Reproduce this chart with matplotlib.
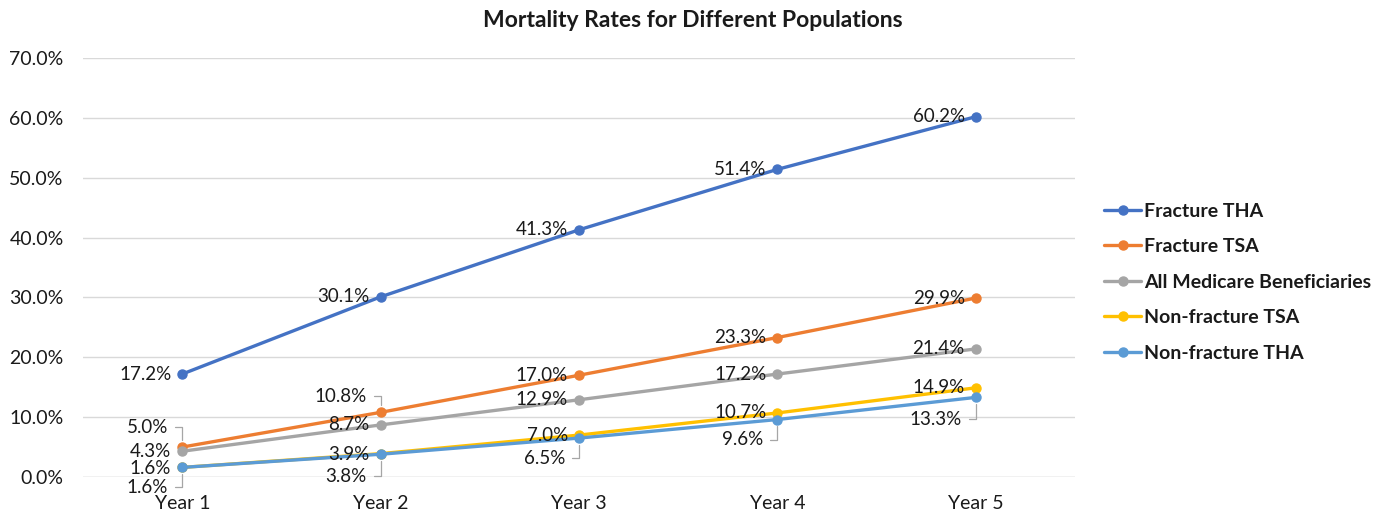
import matplotlib
matplotlib.use("Agg")
import matplotlib.pyplot as plt
import numpy as np

# Chart data
years = ["Year 1", "Year 2", "Year 3", "Year 4", "Year 5"]
fracture_tha = [17.2, 30.1, 41.3, 51.4, 60.2]
fracture_tsa = [5.0, 10.8, 17.0, 23.3, 29.9]
all_medicare = [4.3, 8.7, 12.9, 17.2, 21.4]
nonfracture_tsa = [1.6, 3.9, 7.0, 10.7, 14.9]
nonfracture_tha = [1.6, 3.8, 6.5, 9.6, 13.3]

series_names = ["Fracture THA", "Fracture TSA", "All Medicare Beneficiaries",
                "Non-fracture TSA", "Non-fracture THA"]
colors = ["#4472C4", "#ED7D31", "#A5A5A5", "#FFC000", "#5B9BD5"]

plt.rcParams['font.family'] = ['Lato', 'DejaVu Sans']

fig = plt.figure(figsize=(13.85, 5.17), dpi=100)
ax = fig.add_axes([0.0600, 0.0774, 0.7162, 0.8104])

x = np.arange(len(years))
all_series = [fracture_tha, fracture_tsa, all_medicare, nonfracture_tsa, nonfracture_tha]
for vals, name, c in zip(all_series, series_names, colors):
    ax.plot(x, np.array(vals) / 100, color=c, lw=2.4, marker='o', ms=6.5,
            label=name, solid_capstyle='round', zorder=3)

# label offsets in pixels (dx, dy up positive); leader lines where the label is moved off
px = 0.72
offsets = {
    0: [(0, 0)] * 5,
    1: [(0, 20), (0, 16), (0, 0), (0, 0), (0, 0)],
    2: [(0, 0)] * 5,
    3: [(0, -1), (0, -1), (0, 0), (0, 0), (0, 0)],
    4: [(0, -20), (0, -22), (0, -20), (0, -20), (0, -22)],
}
leaders = {1: [0, 1], 4: [0, 1, 2, 3, 4]}

for si, vals in enumerate(all_series):
    for i, v in enumerate(vals):
        dx, dy = offsets[si][i]
        lead = i in leaders.get(si, [])
        if lead:
            ax.annotate(f"{v:.1f}%", xy=(x[i], v / 100),
                        xytext=(-14 * px, dy * px), textcoords='offset points',
                        ha='right', va='center', fontsize=13.5, color='#1a1a1a',
                        arrowprops=dict(arrowstyle='-', color='#A6A6A6', lw=0.9,
                                        connectionstyle='angle,angleA=0,angleB=90,rad=0',
                                        relpos=(1, 0.5), shrinkA=3, shrinkB=5),
                        zorder=4)
        else:
            ax.annotate(f"{v:.1f}%", xy=(x[i], v / 100),
                        xytext=(-11 * px, dy * px), textcoords='offset points',
                        ha='right', va='center', fontsize=13.5, color='#1a1a1a', zorder=4)

ax.set_xlim(-0.5, 4.5)
ax.set_ylim(0, 0.7)
ax.set_yticks(np.arange(0, 0.71, 0.1))
ax.set_yticklabels([f"{t * 100:.1f}%" for t in np.arange(0, 0.71, 0.1)], fontsize=14, color='#1a1a1a')
ax.set_xticks(x)
ax.set_xticklabels(years, fontsize=14, color='#1a1a1a')
ax.tick_params(axis='y', length=0, pad=14)
ax.tick_params(axis='x', length=0, pad=13)
ax.grid(axis='y', color='#D9D9D9', lw=1)
ax.set_axisbelow(True)
for s in ax.spines.values():
    s.set_visible(False)
ax.axhline(0, color='#D9D9D9', lw=1, zorder=1)

fig.suptitle("Mortality Rates for Different Populations", fontsize=16.5, fontweight='bold',
             color='#1a1a1a', x=0.5, y=0.98)

leg = ax.legend(loc='center left', bbox_to_anchor=(1.012, 0.465), frameon=False,
                prop={'weight': 'bold', 'size': 14}, handlelength=1.9,
                handletextpad=0.15, labelspacing=0.95)
for t in leg.get_texts():
    t.set_color('#1a1a1a')

fig.savefig("out.png", dpi=100)
